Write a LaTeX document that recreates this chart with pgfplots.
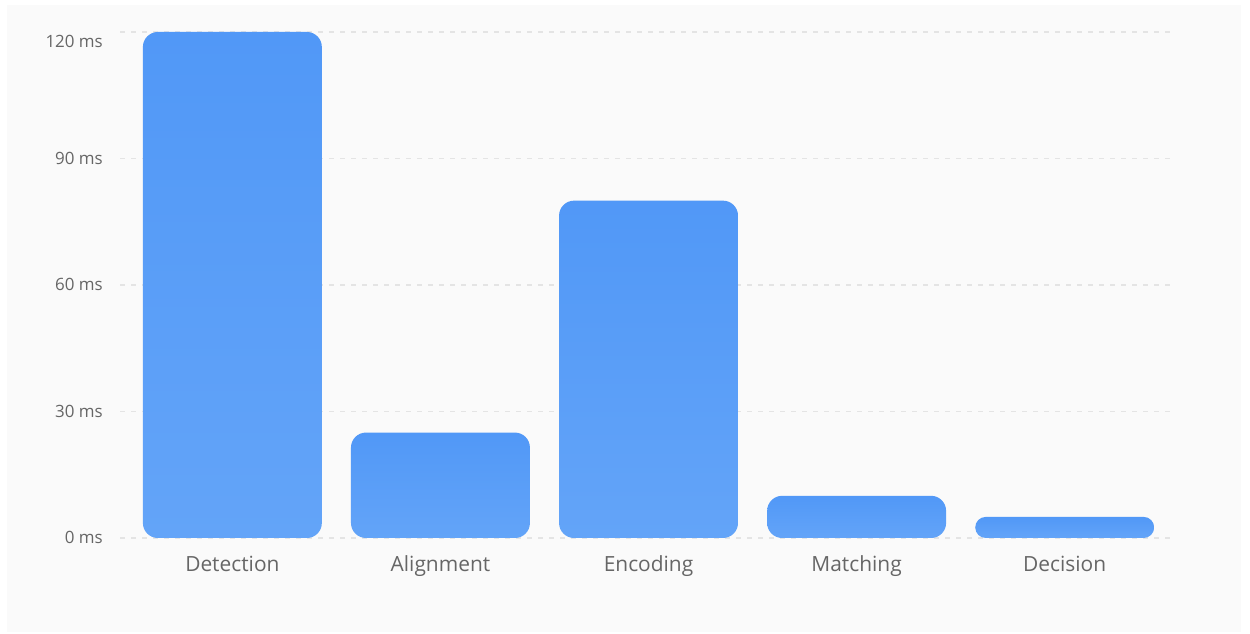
\documentclass[border=0pt]{standalone}
\usepackage{pgfplots}
\pgfplotsset{compat=1.18}
\usepackage{fontspec}
\setmainfont{Open Sans}
\definecolor{panel}{HTML}{FAFAFA}
\definecolor{barblue}{HTML}{5A9EF8}
\definecolor{bartop}{HTML}{5198F7}
\definecolor{barbot}{HTML}{63A4F8}
\definecolor{gridc}{HTML}{E4E4E4}
\definecolor{lab}{HTML}{666666}
\pgfdeclareverticalshading{barshade}{100bp}{color(0bp)=(barbot); color(25bp)=(barbot); color(75bp)=(bartop); color(100bp)=(bartop)}
\makeatletter
\let\origpgfpathrectangle\pgfpathrectangle
\let\origpgfpathrectanglecorners\pgfpathrectanglecorners
\newdimen\rbxa \newdimen\rbya \newdimen\rbxb \newdimen\rbyb \newdimen\rbr \newdimen\rbk \newdimen\rbt
\def\roundbarpath{%
  \ifdim\rbxa>\rbxb \rbt=\rbxa \rbxa=\rbxb \rbxb=\rbt \fi
  \ifdim\rbya>\rbyb \rbt=\rbya \rbya=\rbyb \rbyb=\rbt \fi
  \rbr=15bp
  \ifdim\dimexpr 2\rbr\relax>\dimexpr\rbyb-\rbya\relax \rbr=\dimexpr(\rbyb-\rbya)/2\relax \fi
  \ifdim\dimexpr 2\rbr\relax>\dimexpr\rbxb-\rbxa\relax \rbr=\dimexpr(\rbxb-\rbxa)/2\relax \fi
  \rbk=0.4477\rbr
  \pgfpathmoveto{\pgfqpoint{\dimexpr\rbxa+\rbr\relax}{\rbya}}%
  \pgfpathlineto{\pgfqpoint{\dimexpr\rbxb-\rbr\relax}{\rbya}}%
  \pgfpathcurveto{\pgfqpoint{\dimexpr\rbxb-\rbk\relax}{\rbya}}{\pgfqpoint{\rbxb}{\dimexpr\rbya+\rbk\relax}}{\pgfqpoint{\rbxb}{\dimexpr\rbya+\rbr\relax}}%
  \pgfpathlineto{\pgfqpoint{\rbxb}{\dimexpr\rbyb-\rbr\relax}}%
  \pgfpathcurveto{\pgfqpoint{\rbxb}{\dimexpr\rbyb-\rbk\relax}}{\pgfqpoint{\dimexpr\rbxb-\rbk\relax}{\rbyb}}{\pgfqpoint{\dimexpr\rbxb-\rbr\relax}{\rbyb}}%
  \pgfpathlineto{\pgfqpoint{\dimexpr\rbxa+\rbr\relax}{\rbyb}}%
  \pgfpathcurveto{\pgfqpoint{\dimexpr\rbxa+\rbk\relax}{\rbyb}}{\pgfqpoint{\rbxa}{\dimexpr\rbyb-\rbk\relax}}{\pgfqpoint{\rbxa}{\dimexpr\rbyb-\rbr\relax}}%
  \pgfpathlineto{\pgfqpoint{\rbxa}{\dimexpr\rbya+\rbr\relax}}%
  \pgfpathcurveto{\pgfqpoint{\rbxa}{\dimexpr\rbya+\rbk\relax}}{\pgfqpoint{\dimexpr\rbxa+\rbk\relax}{\rbya}}{\pgfqpoint{\dimexpr\rbxa+\rbr\relax}{\rbya}}%
  \pgfpathclose
  \begingroup
    \let\pgfpathrectangle\origpgfpathrectangle
    \let\pgfpathrectanglecorners\origpgfpathrectanglecorners
    \pgfshadepath{barshade}{0}%
  \endgroup
  \pgfusepath{discard}%
}
% corners version
\def\roundbarrect#1#2{%
  \pgf@process{#1}\rbxa=\pgf@x \rbya=\pgf@y
  \pgf@process{#2}\rbxb=\pgf@x \rbyb=\pgf@y
  \roundbarpath}
% corner + size version
\def\roundbarrectsize#1#2{%
  \pgf@process{#1}\rbxa=\pgf@x \rbya=\pgf@y
  \pgf@process{#2}\rbxb=\pgf@x \rbyb=\pgf@y
  \advance\rbxb by \rbxa
  \advance\rbyb by \rbya
  \roundbarpath}
\makeatother
\tikzset{roundbars/.code={\let\pgfpathrectanglecorners\roundbarrect\let\pgfpathrectangle\roundbarrectsize}}
\begin{document}
\begin{tikzpicture}[x=1bp,y=1bp]
\fill[white] (0,0) rectangle (1250,634);
\fill[panel] (7,2) rectangle (1241,629);
\begin{axis}[
  at={(120bp,96bp)}, anchor=south west,
  scale only axis, width=1055bp, height=506bp,
  xmin=-0.54, xmax=4.53, ymin=0, ymax=120,
  clip=false,
  axis line style={draw=none},
  major tick length=0pt,
  ymajorgrids,
  grid style={draw=gridc, line width=1.4bp, dash pattern=on 5bp off 6bp},
  xtick={0,1,2,3,4},
  xticklabels={Detection,Alignment,Encoding,Matching,Decision},
  ytick={0,30,60,90,120},
  yticklabels={0 ms,30 ms,60 ms,90 ms,\raisebox{-10bp}{120 ms}},
  tick label style={text=lab, inner sep=0pt},
  yticklabel style={font=\fontsize{17}{20}\selectfont, anchor=base east, xshift=-17bp, yshift=-6bp},
  xticklabel style={font=\fontsize{21}{25}\selectfont, anchor=base, yshift=-34bp},
]
\addplot[ybar, bar width=0.86, fill=barblue, draw=none, roundbars]
  coordinates {(0,120) (1,25) (2,80) (3,10) (4,5)};
\end{axis}
\end{tikzpicture}
\end{document}
